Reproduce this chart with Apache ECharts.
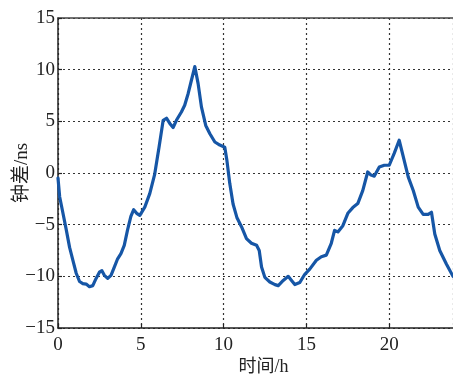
<!DOCTYPE html>
<html>
<head>
<meta charset="utf-8">
<script src="https://cdn.jsdelivr.net/npm/echarts@6/dist/echarts.min.js"></script>
<style>
html,body{margin:0;padding:0;background:#fff;}
#chart{width:453px;height:375px;}
</style>
</head>
<body>
<div id="chart"></div>
<script>
// Clock offset over one day
const hours = [0,0.1,0.3,0.5,0.7,0.9,1.1,1.3,1.5,1.7,1.9,2.1,2.3,2.5,2.65,2.8,3.0,3.2,3.4,3.6,3.8,4.0,4.2,4.4,4.57,4.75,4.94,5.24,5.54,5.84,6.1,6.35,6.55,6.75,6.95,7.15,7.45,7.65,7.86,8.06,8.26,8.46,8.66,8.92,9.17,9.47,9.77,10.07,10.2,10.37,10.57,10.8,11.08,11.38,11.68,11.99,12.15,12.29,12.49,12.79,13.1,13.3,13.6,13.9,14.1,14.3,14.6,14.9,15.2,15.6,15.9,16.2,16.5,16.7,16.9,17.2,17.5,17.8,18.1,18.4,18.7,18.9,19.1,19.4,19.7,20.0,20.3,20.6,20.85,21.15,21.45,21.75,22.05,22.35,22.55,22.75,23.05,23.45,23.85];
const clockOffset = [-0.5,-2.3,-3.9,-5.5,-7.2,-8.45,-9.7,-10.5,-10.7,-10.75,-11.0,-10.9,-10.2,-9.6,-9.45,-9.9,-10.2,-9.9,-9.1,-8.3,-7.8,-7.0,-5.5,-4.2,-3.55,-3.9,-4.1,-3.3,-2.0,-0.1,2.5,5.1,5.3,4.8,4.4,5.1,5.9,6.55,7.7,9.0,10.3,8.65,6.4,4.6,3.8,3.0,2.7,2.5,1.2,-1.0,-3.0,-4.3,-5.2,-6.35,-6.8,-7.0,-7.5,-9.1,-10.1,-10.55,-10.8,-10.9,-10.4,-10.0,-10.4,-10.8,-10.6,-9.8,-9.3,-8.45,-8.1,-7.95,-6.8,-5.55,-5.7,-5.1,-3.9,-3.35,-2.96,-1.7,0.1,-0.2,-0.3,0.58,0.75,0.75,1.9,3.17,1.55,-0.4,-1.7,-3.3,-4.0,-4.0,-3.8,-5.9,-7.5,-8.8,-10.0];
const xRange = [0, 23.85];
const yRange = [-15, 15];
const tickStep = 5;
const xName = '时间/h';
const yName = '钟差/ns';

const serif = '"Liberation Serif","Noto Sans CJK SC",serif';
const fmt = v => String(v).replace('-', '\u2212');
const dotted = {show: true, lineStyle: {color: '#333', width: 1.2, type: [2, 3]}};

const chart = echarts.init(document.getElementById('chart'), null, {renderer: 'canvas'});
chart.setOption({
  animation: false,
  backgroundColor: '#fff',
  grid: {left: 58, top: 18, right: 0, bottom: 47, containLabel: false, outerBoundsMode: 'none'},
  xAxis: [{
    type: 'value', min: xRange[0], max: xRange[1], interval: tickStep,
    name: xName, nameLocation: 'middle', nameGap: 30, nameMoveOverlap: false,
    nameTextStyle: {fontFamily: serif, fontSize: 18, color: '#222', padding: [0, 0, 0, 16]},
    axisLine: {show: true, onZero: false, lineStyle: {color: '#222', width: 1.5}},
    axisTick: {show: true, inside: true, length: 4, lineStyle: {color: '#222', width: 1.2}},
    axisLabel: {fontFamily: serif, fontSize: 19, color: '#222', margin: 8, formatter: fmt, showMaxLabel: false},
    splitLine: dotted
  }, {
    type: 'value', position: 'top', min: xRange[0], max: xRange[1], interval: tickStep,
    axisLine: {show: true, onZero: false, lineStyle: {color: '#444', width: 1.5}},
    axisTick: {show: false}, axisLabel: {show: false}, splitLine: {show: false}
  }],
  yAxis: {
    type: 'value', min: yRange[0], max: yRange[1], interval: tickStep,
    name: yName, nameLocation: 'middle', nameGap: 26, nameRotate: 90, nameMoveOverlap: false,
    nameTextStyle: {fontFamily: serif, fontSize: 19, color: '#222'},
    axisLine: {show: true, onZero: false, lineStyle: {color: '#222', width: 1.5}},
    axisTick: {show: true, inside: true, length: 4, lineStyle: {color: '#222', width: 1.2}},
    axisLabel: {fontFamily: serif, fontSize: 19, color: '#222', margin: 3, formatter: fmt},
    splitLine: dotted
  },
  series: [{
    type: 'line', xAxisIndex: 0,
    data: hours.map((h, i) => [h, clockOffset[i]]),
    showSymbol: false, smooth: false,
    lineStyle: {color: '#1656a6', width: 3.2, join: 'round', cap: 'round'}
  }]
});
</script>
</body>
</html>
